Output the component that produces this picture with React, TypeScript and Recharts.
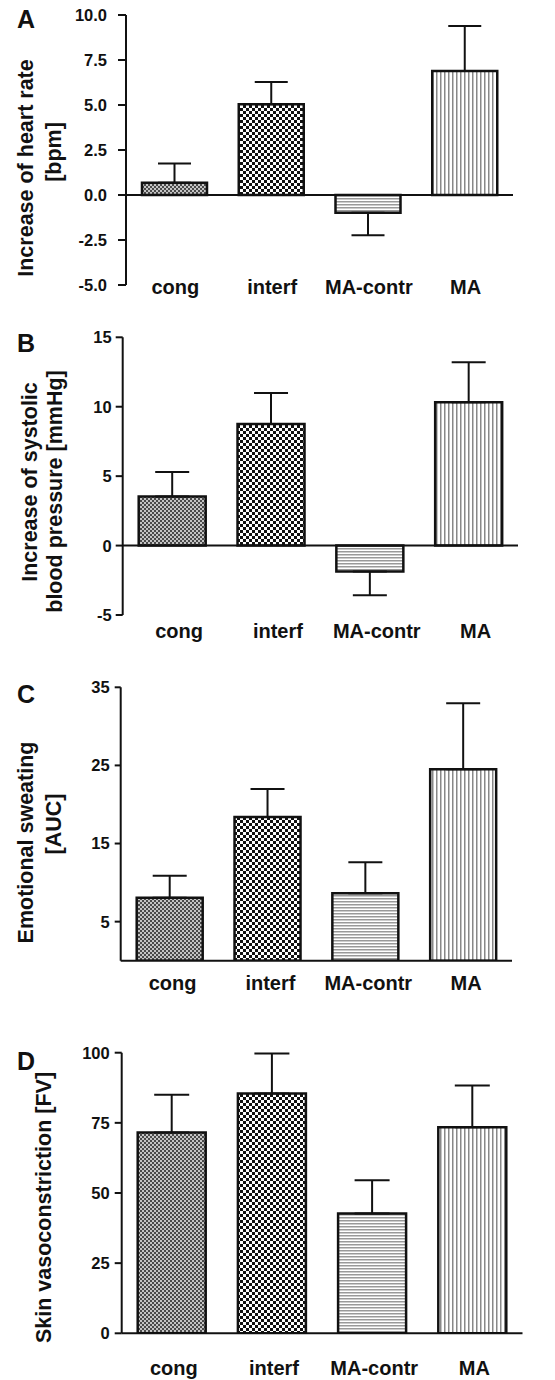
import React from 'react';
import { BarChart, Bar, XAxis, YAxis, ErrorBar, Cell, ReferenceLine } from 'recharts';

const categories = ['cong', 'interf', 'MA-contr', 'MA'];

// A: heart rate
const heartRate = [0.68, 5.04, -0.98, 6.89];
const heartRateSem = [1.07, 1.24, 1.26, 2.5];
const heartRateTicks = [-5, -2.5, 0, 2.5, 5, 7.5, 10];

// B: systolic blood pressure
const systolic = [3.53, 8.75, -1.87, 10.33];
const systolicSem = [1.76, 2.23, 1.7, 2.88];
const systolicTicks = [-5, 0, 5, 10, 15];

// C: emotional sweating
const sweating = [8.07, 18.4, 8.63, 24.5];
const sweatingSem = [2.81, 3.58, 3.97, 8.46];
const sweatingTicks = [5, 15, 25, 35];

// D: skin vasoconstriction
const vaso = [71.6, 85.5, 42.7, 73.4];
const vasoSem = [13.4, 14.2, 11.8, 14.9];
const vasoTicks = [0, 25, 50, 75, 100];

const FONT = '"Liberation Sans", Arial, Helvetica, sans-serif';
const INK = '#111';
const fills = ['cong', 'interf', 'contr', 'ma'];

const buildRows = (values: number[], sems: number[]) =>
    categories.map((name, i) => ({
        name,
        value: values[i],
        // one-sided SEM, pointing away from zero
        err: values[i] >= 0 ? [0, sems[i]] : [sems[i], 0],
    }));

const patternDefs = (id: string) => (
    <defs>
        <pattern id={`cong-${id}`} width={4} height={4} patternUnits="userSpaceOnUse">
            <rect width={4} height={4} fill="#c4c4c4" />
            <rect width={2} height={2} fill="#4a4a4a" />
            <rect x={2} y={2} width={2} height={2} fill="#4a4a4a" />
        </pattern>
        <pattern id={`interf-${id}`} width={6} height={6} patternUnits="userSpaceOnUse">
            <rect width={6} height={6} fill="#fff" />
            <rect width={3} height={3} fill="#111" />
            <rect x={3} y={3} width={3} height={3} fill="#111" />
        </pattern>
        <pattern id={`contr-${id}`} width={4} height={3} patternUnits="userSpaceOnUse">
            <rect width={4} height={3} fill="#fff" />
            <rect width={4} height={1.5} fill="#999" />
        </pattern>
        <pattern id={`ma-${id}`} width={4} height={4} patternUnits="userSpaceOnUse">
            <rect width={4} height={4} fill="#fff" />
            <rect width={1.5} height={4} fill="#888" />
        </pattern>
    </defs>
);

interface Title {
    text: string;
    x: number;
    y: number;
}

interface PanelProps {
    id: string;
    letter: string;
    letterY: number;
    titles: Title[];
    top: number;
    height: number;
    margin: { top: number; right: number; bottom: number; left: number };
    yWidth: number;
    domain: [number, number];
    ticks: number[];
    decimals: number;
    values: number[];
    sems: number[];
    barSize: number;
    capWidth: number;
    tickSize: number;
    tickMargin: number;
    labelDy: number;
    labelDx: number;
}

const Panel: React.FC<PanelProps> = (p) => {
    const data = buildRows(p.values, p.sems);

    const CategoryTick = (props: any) => (
        <text
            x={props.x + p.labelDx}
            y={props.y + p.labelDy}
            textAnchor="middle"
            fontFamily={FONT}
            fontWeight="bold"
            fontSize={20}
            fill={INK}
        >
            {props.payload.value}
        </text>
    );

    const ValueTick = (props: any) => (
        <text
            x={props.x}
            y={props.y}
            dy="0.36em"
            textAnchor="end"
            fontFamily={FONT}
            fontWeight="bold"
            fontSize={16.5}
            fill={INK}
        >
            {Number(props.payload.value).toFixed(p.decimals)}
        </text>
    );

    const renderTitle = () => (
        <g>
            <text x={26} y={p.letterY} textAnchor="middle" fontFamily={FONT} fontWeight="bold" fontSize={25} fill={INK}>
                {p.letter}
            </text>
            {p.titles.map((t) => (
                <text
                    key={t.text}
                    x={t.x}
                    y={t.y}
                    transform={`rotate(-90, ${t.x}, ${t.y})`}
                    textAnchor="middle"
                    fontFamily={FONT}
                    fontWeight="bold"
                    fontSize={21.5}
                    fill={INK}
                >
                    {t.text}
                </text>
            ))}
        </g>
    );

    return (
        <div style={{ position: 'absolute', left: 0, top: p.top }}>
            <BarChart width={555} height={p.height} data={data} margin={p.margin}>
                {patternDefs(p.id)}
                <XAxis
                    dataKey="name"
                    interval={0}
                    height={20}
                    axisLine={false}
                    tickLine={false}
                    tickSize={0}
                    tickMargin={0}
                    tick={<CategoryTick />}
                />
                <YAxis
                    width={p.yWidth}
                    domain={p.domain}
                    ticks={p.ticks}
                    interval={0}
                    allowDataOverflow
                    tick={<ValueTick />}
                    axisLine={{ stroke: INK, strokeWidth: 2 }}
                    tickLine={{ stroke: INK, strokeWidth: 2 }}
                    tickSize={p.tickSize}
                    tickMargin={p.tickMargin}
                    label={renderTitle}
                />
                <Bar dataKey="value" barSize={p.barSize} stroke={INK} strokeWidth={2.5} isAnimationActive={false}>
                    {data.map((d, i) => (
                        <Cell key={d.name} fill={`url(#${fills[i]}-${p.id})`} />
                    ))}
                    <ErrorBar dataKey="err" width={p.capWidth} stroke={INK} strokeWidth={2} isAnimationActive={false} />
                </Bar>
                <ReferenceLine y={0} stroke={INK} strokeWidth={2} />
            </BarChart>
        </div>
    );
};

const App: React.FC = () => {
    return (
        <div
            style={{
                position: 'absolute',
                left: 0,
                top: 0,
                width: 555,
                height: 1380,
                background: '#fff',
                overflow: 'hidden',
            }}
        >
            <Panel
                id="a"
                letter="A"
                letterY={28}
                titles={[
                    { text: 'Increase of heart rate', x: 33, y: 168 },
                    { text: '[bpm]', x: 61, y: 152 },
                ]}
                top={0}
                height={320}
                margin={{ top: 15, right: 42, bottom: 15, left: 0 }}
                yWidth={126}
                domain={[-5, 10]}
                ticks={heartRateTicks}
                decimals={1}
                values={heartRate}
                sems={heartRateSem}
                barSize={65}
                capWidth={16.5}
                tickSize={8}
                tickMargin={11}
                labelDy={9}
                labelDx={1}
            />
            <Panel
                id="b"
                letter="B"
                letterY={352 - 320}
                titles={[
                    { text: 'Increase of systolic', x: 36.5, y: 482 - 320 },
                    { text: 'blood pressure [mmHg]', x: 61.5, y: 491.5 - 320 },
                ]}
                top={320}
                height={340}
                margin={{ top: 17.3, right: 37, bottom: 25, left: 0 }}
                yWidth={122.7}
                domain={[-5, 15]}
                ticks={systolicTicks}
                decimals={0}
                values={systolic}
                sems={systolicSem}
                barSize={67}
                capWidth={17}
                tickSize={7}
                tickMargin={4}
                labelDy={23}
                labelDx={7}
            />
            <Panel
                id="c"
                letter="C"
                letterY={703 - 670}
                titles={[
                    { text: 'Emotional sweating', x: 33.3, y: 842.5 - 670 },
                    { text: '[AUC]', x: 61, y: 824 - 670 },
                ]}
                top={670}
                height={340}
                margin={{ top: 17.3, right: 43, bottom: 29.3, left: 0 }}
                yWidth={120.7}
                domain={[0, 35]}
                ticks={sweatingTicks}
                decimals={0}
                values={sweating}
                sems={sweatingSem}
                barSize={66}
                capWidth={17}
                tickSize={6}
                tickMargin={5}
                labelDy={29.3}
                labelDx={3}
            />
            <Panel
                id="d"
                letter="D"
                letterY={1070 - 1010}
                titles={[{ text: 'Skin vasoconstriction [FV]', x: 50.7, y: 1207.5 - 1010 }]}
                top={1010}
                height={370}
                margin={{ top: 42.7, right: 32.5, bottom: 26.7, left: 0 }}
                yWidth={121.7}
                domain={[0, 100]}
                ticks={vasoTicks}
                decimals={0}
                values={vaso}
                sems={vasoSem}
                barSize={68}
                capWidth={17.5}
                tickSize={7}
                tickMargin={5}
                labelDy={41.7}
                labelDx={2}
            />
        </div>
    );
};

export default App;
